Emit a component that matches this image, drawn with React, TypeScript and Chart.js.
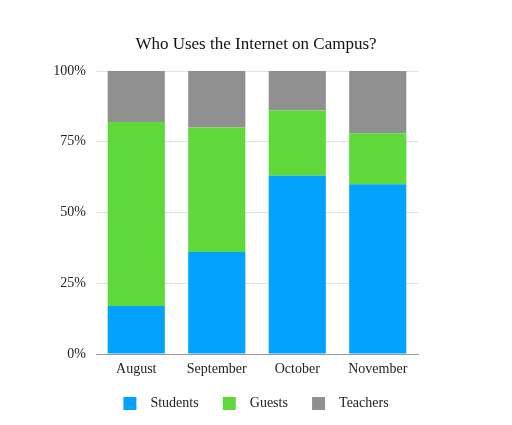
import { useRef, useEffect } from "react";
import { Chart, registerables } from "chart.js";

Chart.register(...registerables);

const months = ["August", "September", "October", "November"];
const students = [17, 36, 63, 60];
const guests = [65, 44, 23, 18];
const teachers = [18, 20, 14, 22];

const serif = "'Liberation Serif', 'Times New Roman', serif";

export default function App() {
  const canvasRef = useRef<HTMLCanvasElement>(null);

  useEffect(() => {
    if (!canvasRef.current) return;
    document.body.style.margin = "0";
    const chart = new Chart(canvasRef.current, {
      type: "bar",
      data: {
        labels: months,
        datasets: [
          { label: "Students", data: students, backgroundColor: "#03a2fd" },
          { label: "Guests", data: guests, backgroundColor: "#5fd93a" },
          { label: "Teachers", data: teachers, backgroundColor: "#909090" },
        ],
      },
      options: {
        animation: false,
        responsive: false,
        maintainAspectRatio: false,
        datasets: { bar: { barPercentage: 0.71, categoryPercentage: 1 } },
        layout: { padding: { left: 0, right: 0, top: 34.3, bottom: 4.6 } },
        plugins: {
          title: {
            display: true,
            text: "Who Uses the Internet on Campus?",
            color: "#111",
            font: { family: serif, size: 17, weight: "normal" },
            padding: { top: 0, bottom: 16.3 },
          },
          legend: {
            position: "bottom",
            labels: {
              color: "#222",
              boxWidth: 13,
              boxHeight: 13,
              padding: 16,
              font: { family: serif, size: 14 },
              // wider gaps: space before the text, and after it except for the last item
              generateLabels: (c) => {
                const items = Chart.defaults.plugins.legend.labels.generateLabels(c);
                return items.map((l, i) => ({
                  ...l,
                  text: "\u2002" + l.text + (i < items.length - 1 ? "\u2002\u200a" : ""),
                }));
              },
            },
          },
          tooltip: { enabled: false },
        },
        scales: {
          x: {
            stacked: true,
            grid: { display: false, drawTicks: false },
            border: { color: "#999" },
            afterFit: (s) => {
              s.height = 26.4;
            },
            ticks: { color: "#222", font: { family: serif, size: 14 }, padding: 7 },
          },
          y: {
            stacked: true,
            min: 0,
            max: 100,
            afterFit: (s) => {
              s.width = 96;
            },
            grid: { color: "#e2e2e2", drawTicks: false },
            border: { display: false },
            ticks: {
              stepSize: 25,
              color: "#222",
              padding: 10,
              font: { family: serif, size: 14 },
              callback: (v) => v + "%",
            },
          },
          // empty right-hand axis, only reserves the margin on the right
          y2: {
            type: "linear",
            position: "right",
            grid: { display: false, drawTicks: false },
            border: { display: false },
            ticks: { display: false },
            afterFit: (s) => {
              s.width = 94;
            },
          },
        },
      },
    });
    return () => chart.destroy();
  }, []);

  return (
    <div style={{ width: 512, height: 425, background: "#fff" }}>
      <canvas ref={canvasRef} width={512} height={425} style={{ width: 512, height: 425 }} />
    </div>
  );
}
